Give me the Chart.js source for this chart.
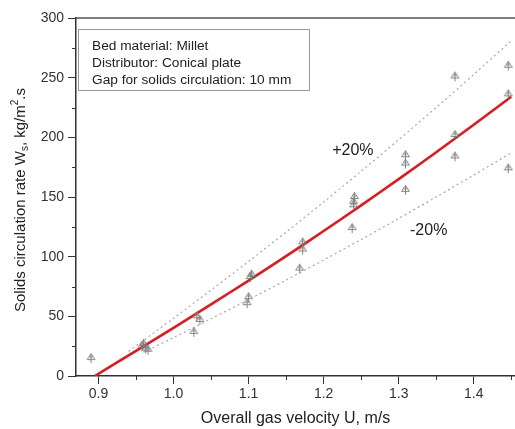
<!DOCTYPE html>
<html>
<head>
<meta charset="utf-8">
<script src="https://cdn.jsdelivr.net/npm/chart.js@4.4.1/dist/chart.umd.min.js"></script>
<style>
  html, body { margin: 0; padding: 0; background: #fff; overflow: hidden; }
  #wrap { width: 515px; height: 429px; position: relative; }
</style>
</head>
<body>
<div id="wrap"><canvas id="wsChart"></canvas></div>
<script>
// measured points: gas velocity (m/s) vs solids circulation rate (kg/m2.s)
const gasVelocity = [0.890, 0.958, 0.960, 0.963, 0.966, 1.027, 1.031, 1.035,
  1.098, 1.100, 1.102, 1.104, 1.168, 1.172, 1.172, 1.238, 1.240, 1.240, 1.241,
  1.309, 1.309, 1.309, 1.375, 1.375, 1.375, 1.446, 1.446, 1.446];
const circRate = [15, 25, 27, 23, 22, 37, 50, 47,
  61, 66, 83, 85, 90, 106, 112, 124, 143, 146, 150,
  156, 178, 185, 184, 202, 251, 174, 236, 260];

// correlation curve
const fitU = [0.895, 0.95, 1.0, 1.05, 1.1, 1.15, 1.2, 1.25, 1.3, 1.35, 1.4, 1.45];
const fitWs = [0, 21, 40.3, 60, 80, 100.5, 121.5, 143, 165, 187.5, 210.5, 234];

// +20% / -20% bands
const upperU = [0.94, 1.0, 1.05, 1.1, 1.15, 1.2, 1.25, 1.3, 1.35, 1.4, 1.45];
const upperWs = [20.6, 48.4, 72, 96, 120.6, 145.8, 171.6, 198, 225, 252.6, 281];
const lowerU = [0.96, 1.0, 1.05, 1.1, 1.15, 1.2, 1.25, 1.3, 1.35, 1.4, 1.45];
const lowerWs = [20, 32.2, 48, 64, 80.4, 97.2, 114.4, 132, 150, 168.4, 187];

const xTicks = [0.9, 1.0, 1.1, 1.2, 1.3, 1.4];
const yTicks = [0, 50, 100, 150, 200, 250, 300];

const infoLines = ['Bed material: Millet', 'Distributor: Conical plate', 'Gap for solids circulation: 10 mm'];
const bandLabels = [
  { text: '+20%', u: 1.239, ws: 189 },
  { text: '-20%', u: 1.340, ws: 122 }
];

const FONT = '"Liberation Sans", Arial, sans-serif';

function toXY(xs, ys) {
  return xs.map((x, i) => ({ x: x, y: ys[i] }));
}

// triangle-with-cross marker
function makeMarker() {
  const c = document.createElement('canvas');
  c.width = 11; c.height = 12;
  const g = c.getContext('2d');
  g.strokeStyle = '#7a7a7a';
  g.lineWidth = 0.9;
  g.beginPath();
  g.moveTo(5.5, 1.5); g.lineTo(1.5, 7.5); g.lineTo(9.5, 7.5); g.closePath();
  g.moveTo(5.5, 1.5); g.lineTo(5.5, 11);
  g.moveTo(3.5, 5); g.lineTo(7.5, 5);
  g.stroke();
  return c;
}
const marker = makeMarker();

// frame, minor ticks, text box, band labels and rich y title
const decorations = {
  id: 'decorations',
  afterDraw(chart) {
    const ctx = chart.ctx;
    const a = chart.chartArea;
    const xs = chart.scales.x, ys = chart.scales.y;
    ctx.save();

    // top frame
    ctx.strokeStyle = '#555';
    ctx.lineWidth = 1.5;
    ctx.beginPath();
    ctx.moveTo(a.left, a.top); ctx.lineTo(a.right, a.top);
    ctx.stroke();

    // minor ticks
    ctx.strokeStyle = '#333';
    ctx.lineWidth = 1;
    ctx.beginPath();
    for (let v = 0.95; v < xs.max; v += 0.1) {
      const px = Math.round(xs.getPixelForValue(v)) + 0.5;
      ctx.moveTo(px, a.bottom); ctx.lineTo(px, a.bottom + 4);
    }
    for (let v = 25; v < ys.max; v += 50) {
      const py = Math.round(ys.getPixelForValue(v)) + 0.5;
      ctx.moveTo(a.left, py); ctx.lineTo(a.left - 4, py);
    }
    ctx.stroke();

    // info box
    ctx.strokeStyle = '#9a9a9a';
    ctx.lineWidth = 1;
    ctx.strokeRect(a.left + 2.5, a.top + 11.5, 231, 61);
    ctx.fillStyle = '#222';
    ctx.font = '13.7px ' + FONT;
    ctx.textBaseline = 'middle';
    ctx.textAlign = 'left';
    infoLines.forEach((t, i) => ctx.fillText(t, a.left + 16, a.top + 28 + i * 17));

    // band labels
    ctx.font = '16px ' + FONT;
    ctx.textAlign = 'center';
    bandLabels.forEach(l => ctx.fillText(l.text, xs.getPixelForValue(l.u), ys.getPixelForValue(l.ws)));

    // y axis title with subscript and superscript
    const parts = [
      { t: 'Solids circulation rate W', s: 15, dy: 0 },
      { t: 's', s: 10, dy: 4 },
      { t: ', kg/m', s: 15, dy: 0 },
      { t: '2', s: 10, dy: -6 },
      { t: '.s', s: 15, dy: 0 }
    ];
    let total = 0;
    parts.forEach(p => { ctx.font = p.s + 'px ' + FONT; p.w = ctx.measureText(p.t).width; total += p.w; });
    ctx.translate(21, 200);
    ctx.rotate(-Math.PI / 2);
    ctx.textAlign = 'left';
    ctx.textBaseline = 'middle';
    let cx = -total / 2;
    parts.forEach(p => {
      ctx.font = p.s + 'px ' + FONT;
      ctx.fillText(p.t, cx, p.dy);
      cx += p.w;
    });
    ctx.restore();
  }
};

new Chart(document.getElementById('wsChart'), {
  type: 'scatter',
  data: {
    datasets: [
      {
        label: '+20%',
        type: 'line',
        data: toXY(upperU, upperWs),
        borderColor: '#a8a8a8',
        borderWidth: 1.2,
        borderDash: [2, 3],
        pointRadius: 0,
        tension: 0.3,
        fill: false
      },
      {
        label: '-20%',
        type: 'line',
        data: toXY(lowerU, lowerWs),
        borderColor: '#a8a8a8',
        borderWidth: 1.2,
        borderDash: [2, 3],
        pointRadius: 0,
        tension: 0.3,
        fill: false
      },
      {
        label: 'Measured',
        data: toXY(gasVelocity, circRate),
        pointStyle: marker,
        pointRadius: 5
      },
      {
        label: 'Correlation',
        type: 'line',
        data: toXY(fitU, fitWs),
        borderColor: '#e0191c',
        borderWidth: 2.6,
        pointRadius: 0,
        tension: 0.3,
        fill: false
      }
    ]
  },
  options: {
    responsive: true,
    maintainAspectRatio: false,
    animation: false,
    events: [],
    layout: { autoPadding: false, padding: { top: 18, right: 0, left: 0, bottom: 0 } },
    plugins: {
      legend: { display: false },
      tooltip: { enabled: false }
    },
    scales: {
      x: {
        type: 'linear',
        min: 0.87,
        max: 1.455,
        afterBuildTicks: s => { s.ticks = xTicks.map(v => ({ value: v })); },
        afterFit: s => { s.height = 53; },
        ticks: {
          callback: v => v.toFixed(1),
          color: '#333',
          padding: 2,
          maxRotation: 0,
          font: { family: FONT, size: 14 }
        },
        grid: { drawOnChartArea: false, tickLength: 8, color: '#333', lineWidth: 1 },
        border: { color: '#333', width: 1.5 },
        title: { display: false }
      },
      y: {
        min: 0,
        max: 300,
        afterBuildTicks: s => { s.ticks = yTicks.map(v => ({ value: v })); },
        afterFit: s => { s.width = 76; },
        ticks: {
          color: '#333',
          padding: 4,
          font: { family: FONT, size: 14 }
        },
        grid: { drawOnChartArea: false, tickLength: 8, color: '#333', lineWidth: 1 },
        border: { color: '#333', width: 1.5 },
        title: { display: false }
      }
    }
  },
  plugins: [decorations, {
    id: 'xTitle',
    afterDraw(chart) {
      const ctx = chart.ctx, a = chart.chartArea;
      ctx.save();
      ctx.fillStyle = '#222';
      ctx.font = '16px ' + FONT;
      ctx.textAlign = 'center';
      ctx.textBaseline = 'middle';
      ctx.fillText('Overall gas velocity U, m/s', (a.left + a.right) / 2, 419);
      ctx.restore();
    }
  }]
});
</script>
</body>
</html>
